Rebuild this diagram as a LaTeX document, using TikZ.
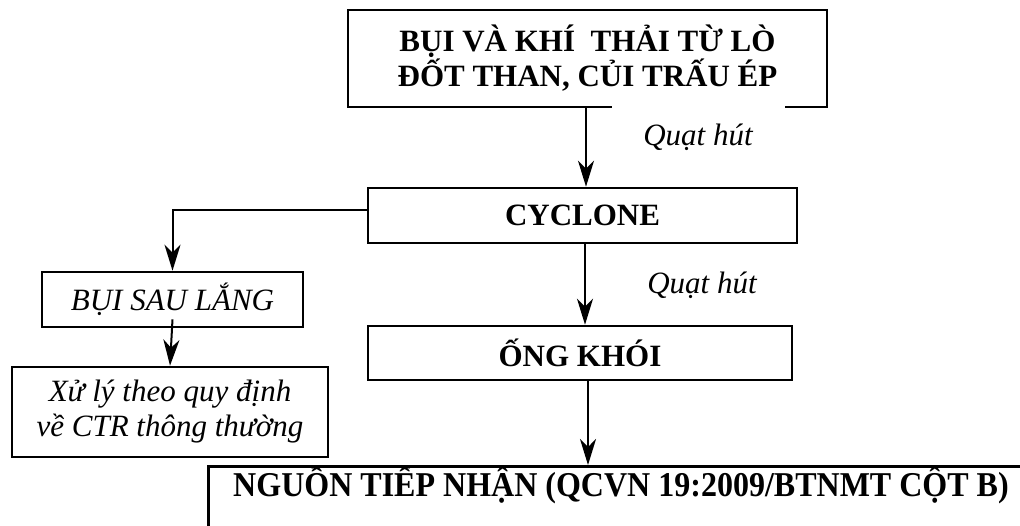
\documentclass[tikz,border=0pt]{standalone}
\usepackage{fontspec}
\setmainfont{Liberation Serif}
\usepackage{graphicx}
\usetikzlibrary{arrows.meta,calc}
\begin{document}
\begin{tikzpicture}[x=0.5pt,y=-0.5pt,
  box/.style={draw,line width=1.3pt,inner sep=0pt,align=center,font=\fontsize{15.5}{17.5}\selectfont\bfseries},
  ibox/.style={draw,line width=1.3pt,inner sep=0pt,align=center,font=\fontsize{15.5}{17.5}\selectfont\itshape},
  lbl/.style={fill=white,inner sep=0pt,font=\fontsize{15.5}{17.5}\selectfont\itshape},
  arr/.style={line width=1pt,-{Stealth[length=13pt,width=8pt,inset=4pt]}}]
\useasboundingbox (0,0) rectangle (1020,525);
\clip (0,0) rectangle (1020,525);
\fill[white] (0,0) rectangle (1020,525);
\node[box,minimum width=239.5pt,minimum height=48.5pt] (src) at (587.5,58.5) {BỤI VÀ KHÍ \ THẢI TỪ LÒ\\ĐỐT THAN, CỦI TRẤU ÉP};
\node[lbl,minimum width=86.5pt,minimum height=31pt] (q1) at (698,137) {Quạt hút};
\node[box,minimum width=214.5pt,minimum height=27.5pt] (cyc) at (582.5,215.5) {CYCLONE};
\node[lbl] (q2) at (702,285) {Quạt hút};
\node[box,minimum width=212pt,minimum height=27pt] (ong) at (580,353) {ỐNG KHÓI};
\node[ibox,minimum width=130.5pt,minimum height=27.5pt] (bui) at (172.5,299.5) {BỤI SAU LẮNG};
\node[ibox,minimum width=158pt,minimum height=45pt] (xl) at (170,412) {Xử lý theo quy định\\về CTR thông thường};
\node[draw,line width=1.3pt,anchor=north west,minimum width=420pt,minimum height=40pt] (ngtbox) at (207,465) {};
\node[inner sep=0pt,font=\fontsize{17.4}{19}\selectfont\bfseries] (ngt) at (621,485) {\scalebox{0.92}[1]{NGUỒN TIẾP NHẬN (QCVN 19:2009/BTNMT CỘT B)}};
\coordinate (c1) at (586,0);
\coordinate (c2) at (585,0);
\coordinate (c3) at (588,0);
\draw[arr] (c1 |- src.south) -- (c1 |- cyc.north);
\draw[arr] (c2 |- cyc.south) -- (c2 |- ong.north);
\draw[arr] (c3 |- ong.south) -- (c3 |- ngtbox.north);
\draw[arr] ([yshift=2.75pt]cyc.west) -| (bui.north);
\draw[arr] ($(bui.south)+(0,-9)$) -- (xl.north);
\end{tikzpicture}
\end{document}
